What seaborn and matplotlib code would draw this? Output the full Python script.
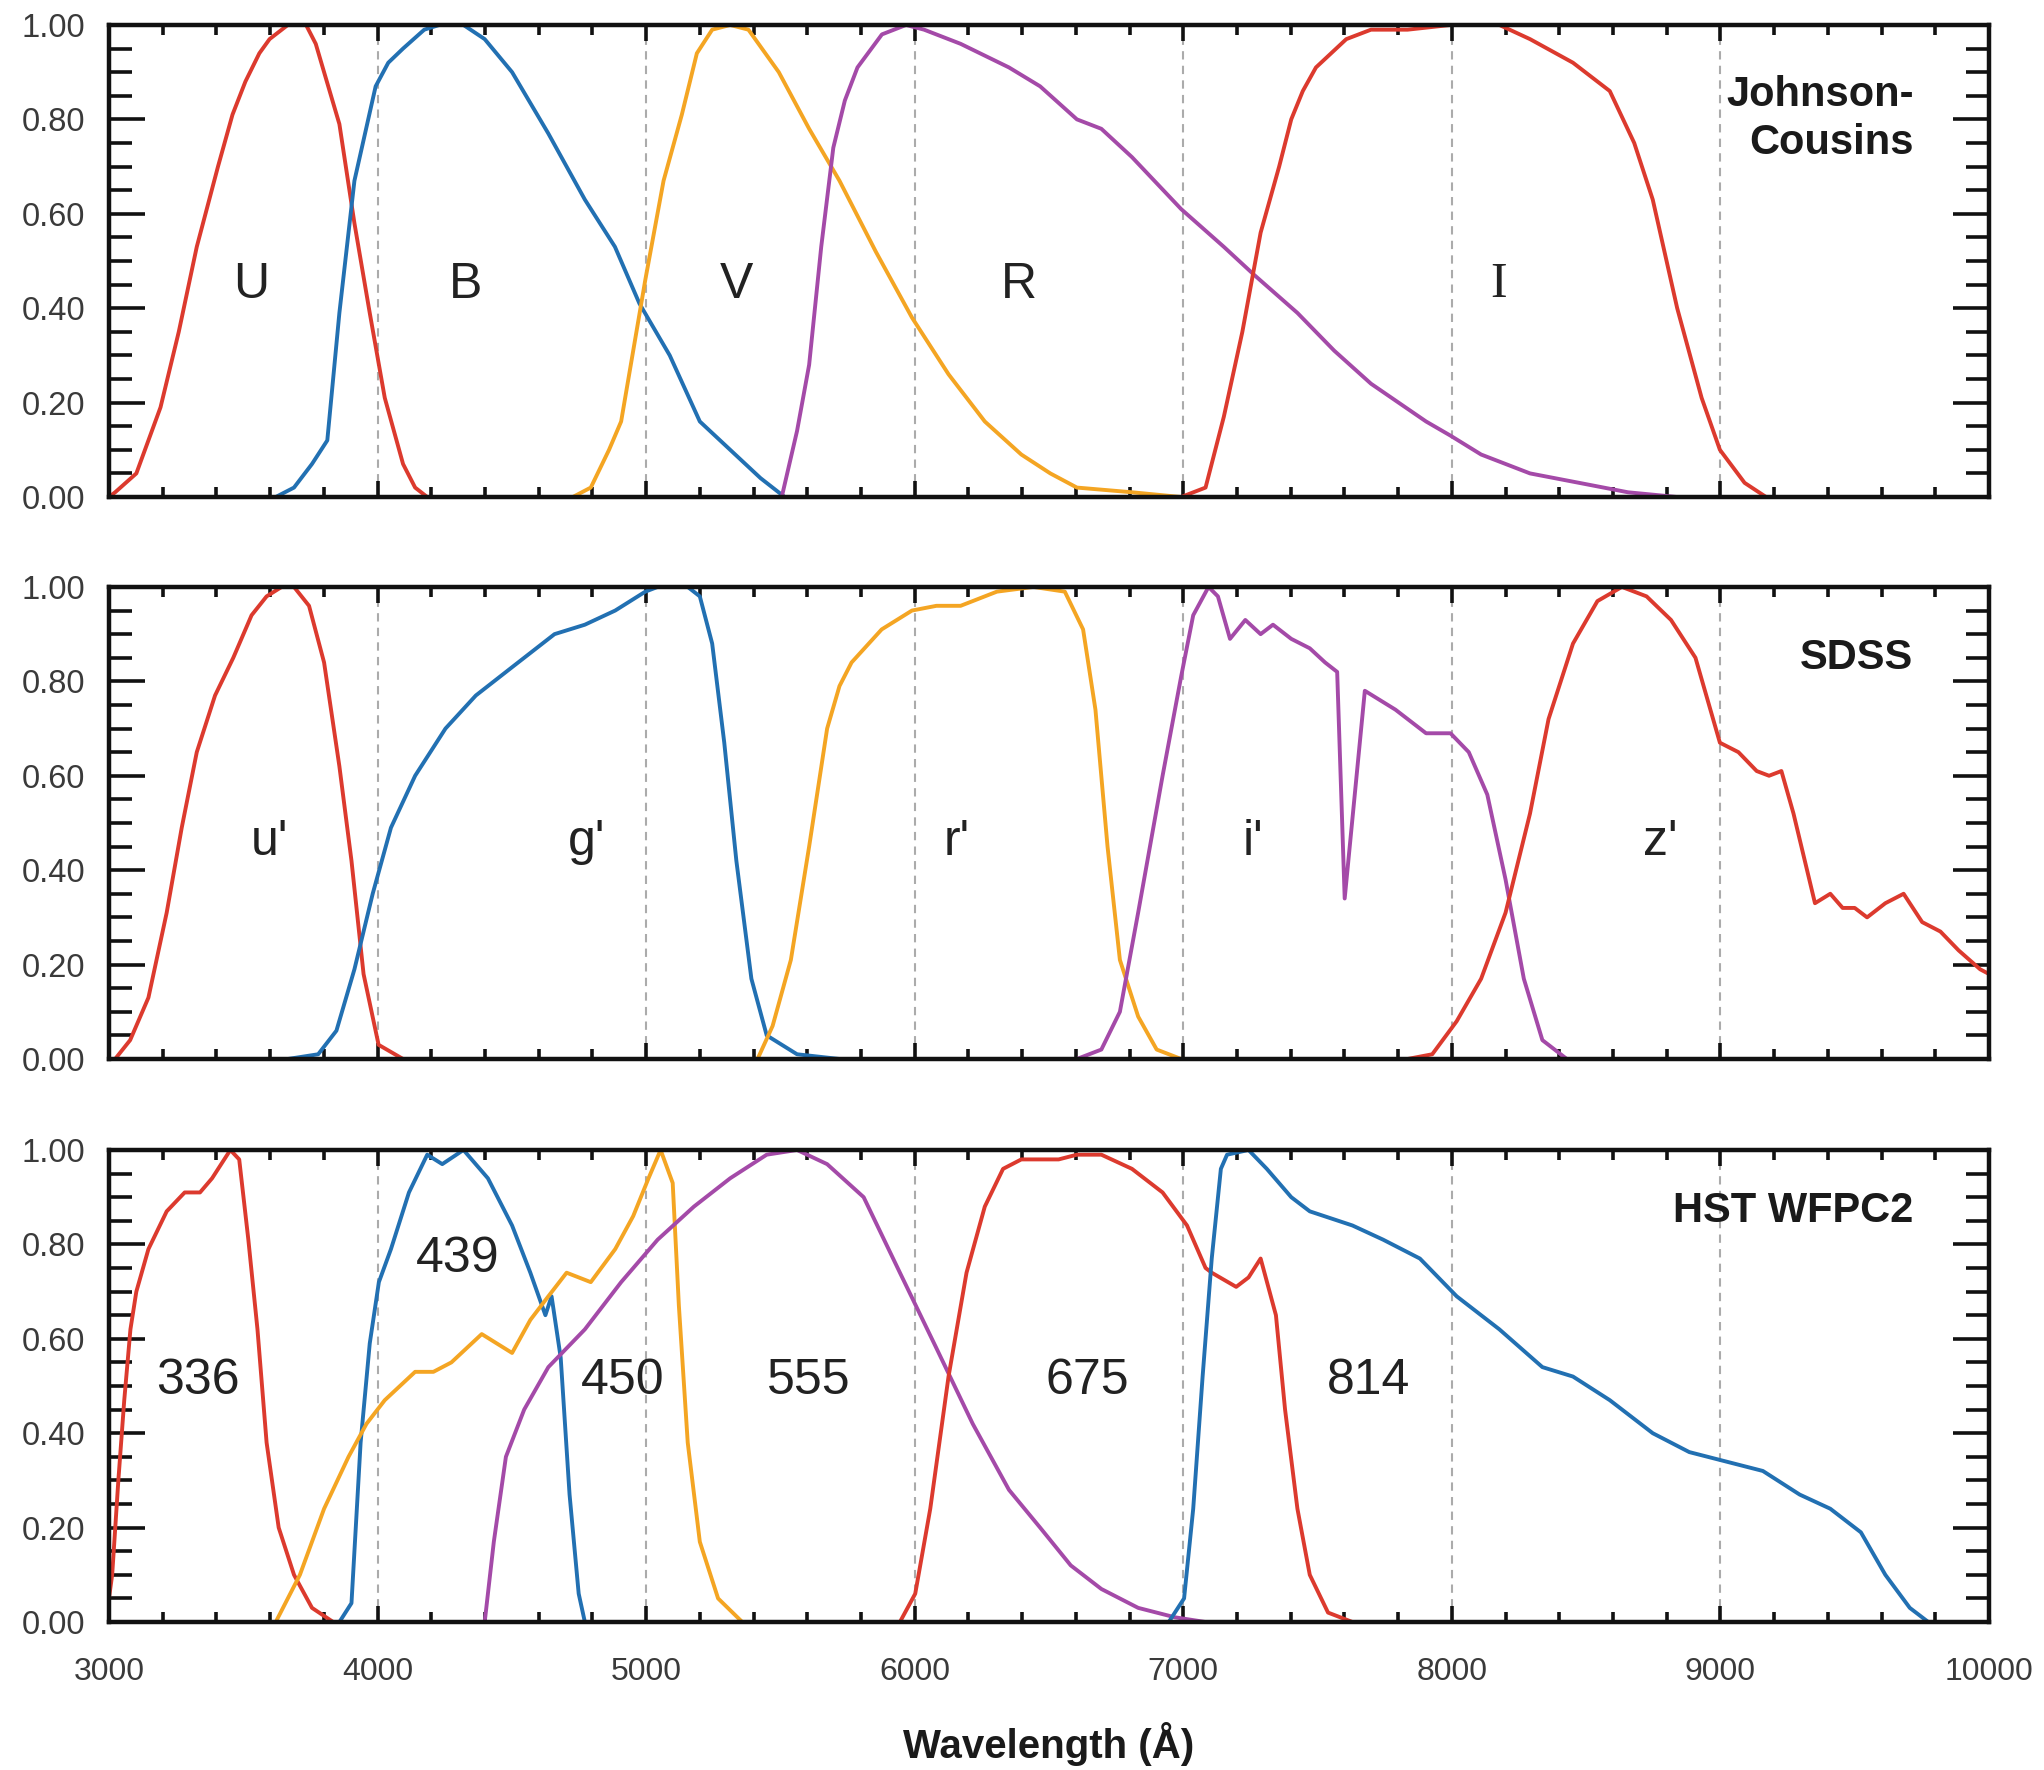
import matplotlib
matplotlib.use("Agg")
import matplotlib.pyplot as plt
from matplotlib.ticker import MultipleLocator, FormatStrFormatter
import pandas as pd
import seaborn as sns

# ---------------------------------------------------------------------------
# Filter transmission curves (wavelength in Angstrom, normalised transmission)
# ---------------------------------------------------------------------------
RED = "#dc3a2e"
BLUE = "#2270b2"
ORANGE = "#f4a523"
PURPLE = "#a44aa8"

# Johnson-Cousins
jc_U_wl = [3000, 3023, 3102, 3192, 3260, 3327, 3406, 3460, 3508, 3560, 3598, 3666,
           3734, 3770, 3801, 3858, 3914, 3971, 4027, 4095, 4140, 4185]
jc_U_tr = [0.0, 0.01, 0.05, 0.19, 0.35, 0.53, 0.70, 0.81, 0.88, 0.94, 0.97, 1.0,
           1.0, 0.96, 0.90, 0.79, 0.58, 0.39, 0.21, 0.07, 0.02, 0.0]
jc_B_wl = [3621, 3689, 3756, 3813, 3858, 3914, 3993, 4040, 4095, 4174, 4230, 4320,
           4399, 4501, 4636, 4772, 4884, 4975, 5088, 5200, 5313, 5426, 5516]
jc_B_tr = [0.0, 0.02, 0.07, 0.12, 0.39, 0.67, 0.87, 0.92, 0.95, 0.99, 1.0, 1.0,
           0.97, 0.90, 0.77, 0.63, 0.53, 0.41, 0.30, 0.16, 0.10, 0.04, 0.0]
jc_V_wl = [4727, 4794, 4862, 4907, 4952, 4997, 5065, 5133, 5189, 5246, 5313, 5381,
           5494, 5607, 5720, 5855, 5990, 6126, 6261, 6397, 6505, 6604, 6810, 6992]
jc_V_tr = [0.0, 0.02, 0.10, 0.16, 0.31, 0.46, 0.67, 0.81, 0.94, 0.99, 1.0, 0.99,
           0.90, 0.78, 0.67, 0.52, 0.38, 0.26, 0.16, 0.09, 0.05, 0.02, 0.01, 0.0]
jc_R_wl = [5505, 5562, 5607, 5652, 5697, 5740, 5787, 5878, 5968, 6035, 6171, 6351,
           6467, 6604, 6695, 6809, 6992, 7151, 7265, 7425, 7562, 7699, 7904, 7995,
           8109, 8291, 8474, 8656, 8839]
jc_R_tr = [0.0, 0.14, 0.28, 0.53, 0.74, 0.84, 0.91, 0.98, 1.0, 0.99, 0.96, 0.91,
           0.87, 0.80, 0.78, 0.72, 0.61, 0.53, 0.47, 0.39, 0.31, 0.24, 0.16, 0.13,
           0.09, 0.05, 0.03, 0.01, 0.0]
jc_I_wl = [6992, 7083, 7151, 7220, 7288, 7357, 7402, 7445, 7494, 7607, 7699, 7835,
           7995, 8177, 8291, 8451, 8588, 8679, 8748, 8839, 8930, 8998, 9090, 9170]
jc_I_tr = [0.0, 0.02, 0.17, 0.35, 0.56, 0.70, 0.80, 0.86, 0.91, 0.97, 0.99, 0.99,
           1.0, 1.0, 0.97, 0.92, 0.86, 0.75, 0.63, 0.40, 0.21, 0.10, 0.03, 0.0]

# SDSS
sdss_u_wl = [3000, 3023, 3079, 3147, 3215, 3271, 3327, 3395, 3463, 3531, 3587, 3643,
             3689, 3745, 3801, 3858, 3903, 3948, 4004, 4095]
sdss_u_tr = [0.0, 0.0, 0.04, 0.13, 0.31, 0.49, 0.65, 0.77, 0.85, 0.94, 0.98, 1.0,
             1.0, 0.96, 0.84, 0.62, 0.42, 0.18, 0.03, 0.0]
sdss_g_wl = [3666, 3779, 3847, 3914, 3982, 4050, 4140, 4253, 4366, 4501, 4659, 4772,
             4885, 4997, 5043, 5155, 5200, 5246, 5291, 5336, 5392, 5449, 5562, 5720]
sdss_g_tr = [0.0, 0.01, 0.06, 0.19, 0.35, 0.49, 0.60, 0.70, 0.77, 0.83, 0.90, 0.92,
             0.95, 0.99, 1.0, 1.0, 0.98, 0.88, 0.67, 0.42, 0.17, 0.05, 0.01, 0.0]
sdss_r_wl = [5415, 5471, 5539, 5607, 5674, 5720, 5765, 5877, 5990, 6081, 6171, 6306,
             6442, 6559, 6627, 6673, 6718, 6764, 6832, 6901, 6992]
sdss_r_tr = [0.0, 0.07, 0.21, 0.45, 0.70, 0.79, 0.84, 0.91, 0.95, 0.96, 0.96, 0.99,
             1.0, 0.99, 0.91, 0.74, 0.45, 0.21, 0.09, 0.02, 0.0]
sdss_i_wl = [6604, 6695, 6764, 6832, 6923, 6992, 7037, 7094, 7129, 7174, 7231, 7288,
             7334, 7402, 7471, 7528, 7573, 7601, 7676, 7790, 7904, 7995, 8063, 8132,
             8200, 8268, 8337, 8428]
sdss_i_tr = [0.0, 0.02, 0.10, 0.31, 0.60, 0.81, 0.94, 1.0, 0.98, 0.89, 0.93, 0.90,
             0.92, 0.89, 0.87, 0.84, 0.82, 0.34, 0.78, 0.74, 0.69, 0.69, 0.65, 0.56,
             0.38, 0.17, 0.04, 0.0]
sdss_z_wl = [7835, 7927, 8018, 8109, 8200, 8291, 8360, 8451, 8542, 8633, 8725, 8816,
             8907, 8998, 9067, 9135, 9181, 9227, 9272, 9352, 9409, 9455, 9500, 9546,
             9614, 9682, 9751, 9819, 9887, 9967, 10000]
sdss_z_tr = [0.0, 0.01, 0.08, 0.17, 0.31, 0.52, 0.72, 0.88, 0.97, 1.0, 0.98, 0.93,
             0.85, 0.67, 0.65, 0.61, 0.60, 0.61, 0.52, 0.33, 0.35, 0.32, 0.32, 0.30,
             0.33, 0.35, 0.29, 0.27, 0.23, 0.19, 0.18]

# HST WFPC2
hst_336_wl = [3000, 3012, 3035, 3057, 3080, 3102, 3147, 3215, 3282, 3339, 3384, 3418,
              3452, 3485, 3519, 3553, 3587, 3632, 3689, 3756, 3835]
hst_336_tr = [0.05, 0.10, 0.30, 0.47, 0.62, 0.70, 0.79, 0.87, 0.91, 0.91, 0.94, 0.97,
              1.0, 0.98, 0.81, 0.62, 0.38, 0.20, 0.10, 0.03, 0.0]
hst_439_wl = [3858, 3903, 3937, 3971, 4005, 4050, 4117, 4185, 4241, 4320, 4411, 4501,
              4569, 4625, 4648, 4682, 4715, 4749, 4772]
hst_439_tr = [0.0, 0.04, 0.38, 0.59, 0.72, 0.79, 0.91, 0.99, 0.97, 1.0, 0.94, 0.84,
              0.74, 0.65, 0.69, 0.56, 0.27, 0.06, 0.0]
hst_450_wl = [3621, 3711, 3801, 3892, 3959, 4027, 4140, 4208, 4275, 4388, 4501, 4569,
              4636, 4704, 4794, 4885, 4952, 5009, 5054, 5099, 5122, 5155, 5200, 5268,
              5358]
hst_450_tr = [0.0, 0.10, 0.24, 0.35, 0.42, 0.47, 0.53, 0.53, 0.55, 0.61, 0.57, 0.64,
              0.69, 0.74, 0.72, 0.79, 0.86, 0.94, 1.0, 0.93, 0.67, 0.38, 0.17, 0.05,
              0.0]
hst_555_wl = [4399, 4433, 4478, 4546, 4636, 4772, 4907, 5043, 5178, 5313, 5449, 5562,
              5674, 5810, 5945, 6081, 6216, 6351, 6467, 6581, 6695, 6832, 6969, 7083]
hst_555_tr = [0.0, 0.17, 0.35, 0.45, 0.54, 0.62, 0.72, 0.81, 0.88, 0.94, 0.99, 1.0,
              0.97, 0.90, 0.74, 0.58, 0.42, 0.28, 0.20, 0.12, 0.07, 0.03, 0.01, 0.0]
hst_675_wl = [5945, 6002, 6058, 6126, 6193, 6261, 6329, 6397, 6464, 6536, 6604, 6695,
              6809, 6923, 7014, 7083, 7106, 7197, 7243, 7288, 7345, 7379, 7425, 7471,
              7539, 7630]
hst_675_tr = [0.0, 0.06, 0.24, 0.52, 0.74, 0.88, 0.96, 0.98, 0.98, 0.98, 0.99, 0.99,
              0.96, 0.91, 0.84, 0.75, 0.74, 0.71, 0.73, 0.77, 0.65, 0.45, 0.24, 0.10,
              0.02, 0.0]
hst_814_wl = [6946, 7003, 7037, 7072, 7106, 7140, 7163, 7243, 7311, 7402, 7471, 7630,
              7744, 7881, 8018, 8177, 8337, 8451, 8588, 8748, 8884, 9021, 9158, 9295,
              9409, 9523, 9614, 9705, 9774]
hst_814_tr = [0.0, 0.05, 0.24, 0.52, 0.77, 0.96, 0.99, 1.0, 0.96, 0.90, 0.87, 0.84,
              0.81, 0.77, 0.69, 0.62, 0.54, 0.52, 0.47, 0.40, 0.36, 0.34, 0.32, 0.27,
              0.24, 0.19, 0.10, 0.03, 0.0]

# Band names, colours and label positions (wavelength, transmission) per panel
jc_names = ["U", "B", "V", "R", "I"]
jc_colors = [RED, BLUE, ORANGE, PURPLE, RED]
jc_label_x = [3530, 4327, 5338, 6388, 8173]
jc_label_y = [0.45, 0.45, 0.45, 0.45, 0.45]

sdss_names = ["u'", "g'", "r'", "i'", "z'"]
sdss_colors = [RED, BLUE, ORANGE, PURPLE, RED]
sdss_label_x = [3598, 4779, 6155, 7259, 8775]
sdss_label_y = [0.46, 0.46, 0.46, 0.46, 0.46]

hst_names = ["336", "439", "450", "555", "675", "814"]
hst_colors = [RED, BLUE, ORANGE, PURPLE, RED, BLUE]
hst_label_x = [3330, 4298, 4911, 5606, 6641, 7691]
hst_label_y = [0.51, 0.77, 0.51, 0.51, 0.51, 0.51]

panel_titles = ["Johnson-\nCousins", "SDSS", "HST WFPC2"]
panel_title_y = [0.80, 0.85, 0.87]


def band_frame(names, wls, trs):
    parts = [pd.DataFrame({"wavelength": w, "transmission": t, "band": n})
             for n, w, t in zip(names, wls, trs)]
    return pd.concat(parts, ignore_index=True)


panels = [
    (band_frame(jc_names, [jc_U_wl, jc_B_wl, jc_V_wl, jc_R_wl, jc_I_wl],
                [jc_U_tr, jc_B_tr, jc_V_tr, jc_R_tr, jc_I_tr]),
     jc_names, jc_colors, jc_label_x, jc_label_y),
    (band_frame(sdss_names, [sdss_u_wl, sdss_g_wl, sdss_r_wl, sdss_i_wl, sdss_z_wl],
                [sdss_u_tr, sdss_g_tr, sdss_r_tr, sdss_i_tr, sdss_z_tr]),
     sdss_names, sdss_colors, sdss_label_x, sdss_label_y),
    (band_frame(hst_names, [hst_336_wl, hst_439_wl, hst_450_wl, hst_555_wl,
                            hst_675_wl, hst_814_wl],
                [hst_336_tr, hst_439_tr, hst_450_tr, hst_555_tr,
                 hst_675_tr, hst_814_tr]),
     hst_names, hst_colors, hst_label_x, hst_label_y),
]

# ---------------------------------------------------------------------------
sns.set_style("ticks")
plt.rcParams["font.family"] = ["Liberation Sans", "DejaVu Sans"]

fig = plt.figure(figsize=(20.44, 17.70), dpi=100)
ax_left, ax_width, ax_height = 0.0533, 0.9198, 0.2667
bottoms = [0.7192, 0.4017, 0.0836]

for i, (df, names, colors, lx, ly) in enumerate(panels):
    ax = fig.add_axes([ax_left, bottoms[i], ax_width, ax_height])
    for xv in range(4000, 10000, 1000):
        ax.axvline(xv, color="#ababab", lw=1.5, ls=(0, (4, 3)), zorder=0)
    sns.lineplot(data=df, x="wavelength", y="transmission", hue="band",
                 palette=dict(zip(names, colors)), estimator=None, sort=False,
                 lw=2.8, legend=False, ax=ax)
    for line in ax.get_lines():
        line.set_solid_joinstyle("round")
        line.set_solid_capstyle("round")
    for name, x, y in zip(names, lx, ly):
        fam = ["Liberation Serif"] if name == "I" else ["Liberation Sans", "DejaVu Sans"]
        ax.text(x, y, name, ha="center", va="center", fontsize=36,
                color="#222222", family=fam)
    ax.text(9719, panel_title_y[i], panel_titles[i], ha="right", va="center",
            multialignment="right", fontsize=30, fontweight="bold",
            color="#1a1a1a", linespacing=1.25)

    ax.set_xlim(3000, 10000)
    ax.set_ylim(0, 1)
    ax.set_xlabel("")
    ax.set_ylabel("")
    ax.xaxis.set_major_locator(MultipleLocator(1000))
    ax.xaxis.set_minor_locator(MultipleLocator(200))
    ax.yaxis.set_major_locator(MultipleLocator(0.2))
    ax.yaxis.set_minor_locator(MultipleLocator(0.05))
    ax.yaxis.set_major_formatter(FormatStrFormatter("%.2f"))
    ax.tick_params(which="both", direction="in", top=True, right=True,
                   width=2.6, color="#111111", labelcolor="#3a3a3a")
    ax.tick_params(axis="y", which="major", length=26, labelsize=23.5, pad=17)
    ax.tick_params(axis="y", which="minor", length=16.5)
    ax.tick_params(axis="x", which="major", length=11.5, labelsize=23, pad=25)
    ax.tick_params(axis="x", which="minor", length=7)
    if i < 2:
        ax.tick_params(axis="x", labelbottom=False)
    for sp in ax.spines.values():
        sp.set_linewidth(3.2)
        sp.set_color("#111111")

fig.text(1049 / 2044, 1 - 1744 / 1770, "Wavelength (Å)", ha="center", va="center",
         fontsize=29, fontweight="bold", color="#1a1a1a")

fig.savefig("out.png", dpi=100, facecolor="white")
